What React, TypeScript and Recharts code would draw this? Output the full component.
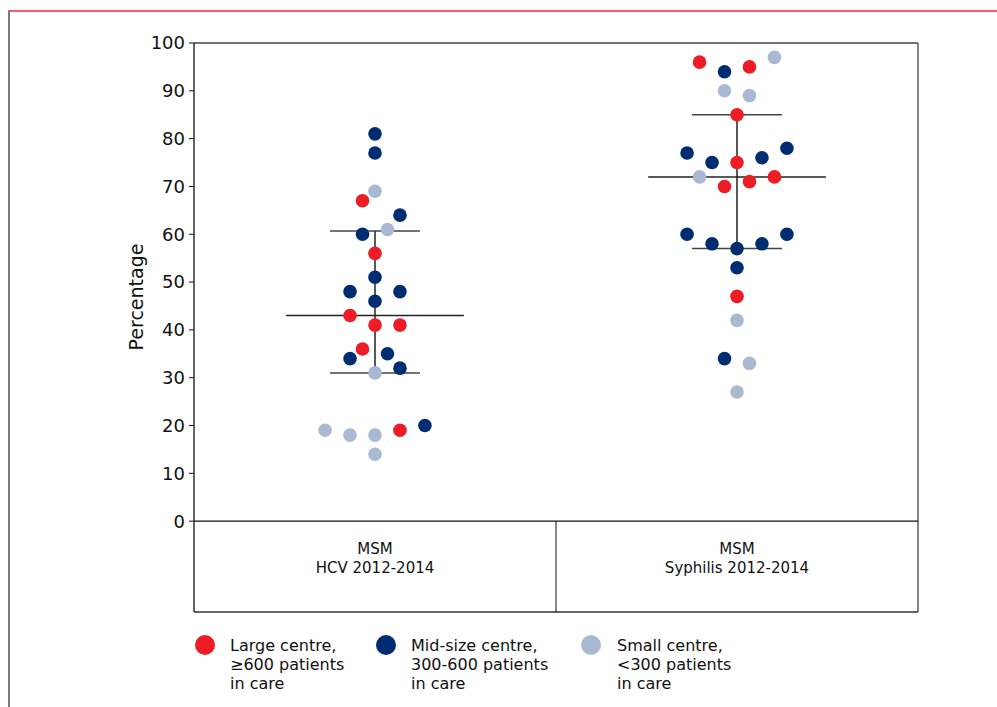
import { ScatterChart, Scatter, XAxis, YAxis, ReferenceLine, Label } from 'recharts'

// category labels (two lines each) and y ticks
const categories = [
  ['MSM', 'HCV 2012-2014'],
  ['MSM', 'Syphilis 2012-2014'],
]
const yTicks = [0, 10, 20, 30, 40, 50, 60, 70, 80, 90, 100]

// values per centre size; "slot" is the beeswarm offset from the category centre
const hcvLarge = [67, 56, 43, 41, 41, 36, 19]
const hcvLargeSlot = [-0.5, 0, -1, 0, 1, -0.5, 1]
const hcvMid = [81, 77, 64, 60, 51, 48, 48, 46, 34, 35, 32, 20]
const hcvMidSlot = [0, 0, 1, -0.5, 0, -1, 1, 0, -1, 0.5, 1, 2]
const hcvSmall = [69, 61, 31, 19, 18, 18, 14]
const hcvSmallSlot = [0, 0.5, 0, -2, -1, 0, 0]

const sypLarge = [96, 95, 85, 75, 70, 71, 72, 47]
const sypLargeSlot = [-1.5, 0.5, 0, 0, -0.5, 0.5, 1.5, 0]
const sypMid = [94, 77, 75, 76, 78, 60, 58, 57, 58, 60, 53, 34]
const sypMidSlot = [-0.5, -2, -1, 1, 2, -2, -1, 0, 1, 2, 0, -0.5]
const sypSmall = [97, 90, 89, 72, 42, 33, 27]
const sypSmallSlot = [1.5, -0.5, 0.5, -1.5, 0, 0.5, 0]

// median and interquartile range per category
const medians = [43, 72]
const lowQ = [31, 57]
const highQ = [60.7, 85]

const RED = '#ee1c25'
const NAVY = '#002d72'
const LIGHT = '#aab9d2'
const FONT = '"DejaVu Sans", Verdana, sans-serif'

const X_MAX = 29
const centers = [7.25, 21.75]
const BOX_BOTTOM = -19
const MEDIAN_HALF = 3.56
const CAP_HALF = 1.8

const toPoints = (vals: number[], slots: number[], c: number) =>
  vals.map((v, i) => ({ x: centers[c] + slots[i], y: v }))

const largeData = [...toPoints(hcvLarge, hcvLargeSlot, 0), ...toPoints(sypLarge, sypLargeSlot, 1)]
const midData = [...toPoints(hcvMid, hcvMidSlot, 0), ...toPoints(sypMid, sypMidSlot, 1)]
const smallData = [...toPoints(hcvSmall, hcvSmallSlot, 0), ...toPoints(sypSmall, sypSmallSlot, 1)]

const legendItems = [
  { color: RED, lines: ['Large centre,', '\u2265600 patients', 'in care'], left: 195, textLeft: 230 },
  { color: NAVY, lines: ['Mid-size centre,', '300-600 patients', 'in care'], left: 376, textLeft: 411 },
  { color: LIGHT, lines: ['Small centre,', '<300 patients', 'in care'], left: 581, textLeft: 617 },
]

const dot = (color: string) => (props: any) => (
  <circle cx={props.cx} cy={props.cy} r={6.8} fill={color} />
)

const CategoryTick = (props: any) => {
  const { x, y, index } = props
  const lines = categories[index] || []
  return (
    <text x={x} textAnchor="middle" fontFamily={FONT} fontSize={15} fill="#111">
      {lines.map((l, i) => (
        <tspan key={i} x={x} y={y - 66 + i * 19}>{l}</tspan>
      ))}
    </text>
  )
}

export default function App() {
  return (
    <div style={{ position: 'absolute', left: 0, top: 0, width: 997, height: 707, background: '#fff', fontFamily: FONT }}>
      <div
        style={{
          position: 'absolute',
          left: 8,
          top: 10,
          width: 989,
          height: 697,
          borderTop: '2px solid #f45c66',
          borderLeft: '2px solid #7a7a7a',
          boxSizing: 'border-box',
        }}
      />
      <div style={{ position: 'absolute', left: 0, top: 0 }}>
        <ScatterChart width={997} height={707} margin={{ top: 43, right: 79, left: 134, bottom: 65 }}>
          <XAxis
            type="number"
            dataKey="x"
            domain={[0, X_MAX]}
            ticks={centers}
            axisLine={false}
            tickLine={false}
            height={30}
            tick={<CategoryTick />}
            interval={0}
          />
          <YAxis
            type="number"
            dataKey="y"
            domain={[BOX_BOTTOM, 100]}
            ticks={yTicks}
            interval={0}
            width={60}
            tickSize={5}
            tickMargin={4}
            axisLine={{ stroke: '#111', strokeWidth: 1.3 }}
            tickLine={{ stroke: '#111' }}
            tick={{ fill: '#111', fontSize: 18, fontFamily: FONT }}
          >
            <Label
              content={() => (
                <text
                  x={136}
                  y={297}
                  transform="rotate(-90 136 297)"
                  textAnchor="middle"
                  dominantBaseline="central"
                  fontFamily={FONT}
                  fontSize={19}
                  fill="#111"
                >
                  Percentage
                </text>
              )}
            />
          </YAxis>
          <Scatter data={largeData} fill={RED} shape={dot(RED)} isAnimationActive={false} />
          <Scatter data={midData} fill={NAVY} shape={dot(NAVY)} isAnimationActive={false} />
          <Scatter data={smallData} fill={LIGHT} shape={dot(LIGHT)} isAnimationActive={false} />

          {/* frame and category box */}
          <ReferenceLine y={100} stroke="#444" strokeWidth={1.3} />
          <ReferenceLine x={X_MAX} stroke="#444" strokeWidth={1.3} />
          <ReferenceLine y={0} stroke="#111" strokeWidth={1.3} />
          <ReferenceLine y={BOX_BOTTOM} stroke="#333" strokeWidth={1.3} />
          <ReferenceLine segment={[{ x: X_MAX / 2, y: BOX_BOTTOM }, { x: X_MAX / 2, y: 0 }]} stroke="#111" strokeWidth={1} />

          {/* median and IQR bars */}
          {centers.map((c, i) => (
            <ReferenceLine key={`v${i}`} segment={[{ x: c, y: lowQ[i] }, { x: c, y: highQ[i] }]} stroke="#222" strokeWidth={1.5} />
          ))}
          {centers.map((c, i) => (
            <ReferenceLine key={`m${i}`} segment={[{ x: c - MEDIAN_HALF, y: medians[i] }, { x: c + MEDIAN_HALF, y: medians[i] }]} stroke="#222" strokeWidth={1.5} />
          ))}
          {centers.map((c, i) => (
            <ReferenceLine key={`l${i}`} segment={[{ x: c - CAP_HALF, y: lowQ[i] }, { x: c + CAP_HALF, y: lowQ[i] }]} stroke="#444" strokeWidth={1.5} />
          ))}
          {centers.map((c, i) => (
            <ReferenceLine key={`h${i}`} segment={[{ x: c - CAP_HALF, y: highQ[i] }, { x: c + CAP_HALF, y: highQ[i] }]} stroke="#444" strokeWidth={1.5} />
          ))}
        </ScatterChart>
      </div>
      {legendItems.map((it, i) => (
        <div key={i}>
          <div
            style={{
              position: 'absolute',
              left: it.left,
              top: 635,
              width: 20,
              height: 20,
              borderRadius: '50%',
              background: it.color,
            }}
          />
          <div
            style={{
              position: 'absolute',
              left: it.textLeft,
              top: 636,
              fontSize: 16,
              lineHeight: '19px',
              color: '#111',
              whiteSpace: 'nowrap',
            }}
          >
            {it.lines.map((l, j) => (
              <div key={j}>{l}</div>
            ))}
          </div>
        </div>
      ))}
    </div>
  )
}
